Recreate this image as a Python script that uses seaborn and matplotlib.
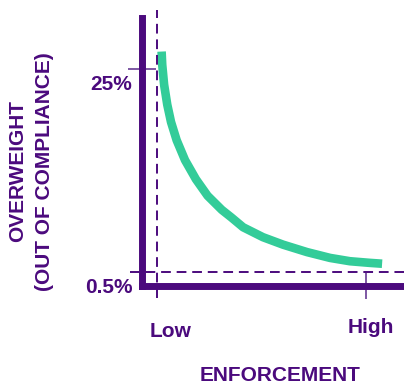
import matplotlib
matplotlib.use("Agg")
import matplotlib.pyplot as plt
import seaborn as sns
import pandas as pd

# ---- data ----
enforcement = [0.022, 0.025, 0.034, 0.049, 0.067, 0.094, 0.134, 0.186, 0.242, 0.310,
               0.355, 0.412, 0.507, 0.603, 0.718, 0.828, 0.923, 1.019, 1.077]
overweight = [27.1, 25.5, 23.1, 20.7, 18.6, 16.4, 14.0, 11.7, 9.7, 8.0,
              7.1, 5.9, 4.7, 3.8, 2.9, 2.2, 1.8, 1.6, 1.5]
x_tick_vals = [0, 1]
x_tick_labels = ["Low", "High"]
y_tick_vals = [0.5, 25]
y_tick_labels = ["0.5%", "25%"]

PURPLE = "#4B0A7D"
GREEN = "#33CC99"

sns.set_style("white")
plt.rcParams["font.family"] = ["Liberation Sans", "DejaVu Sans"]

W, H = 404, 385
fig = plt.figure(figsize=(W / 100, H / 100), dpi=100)
left_px, bottom_px, top_px = 141.5, 285.5, 17.5
ax = fig.add_axes([left_px / W, (H - bottom_px) / H, 1 - left_px / W, (bottom_px - top_px) / H])
ax.set_xlim(-0.0742, 1.1818)
ax.set_ylim(-1.129, 31.21)

df = pd.DataFrame({"enforcement": enforcement, "overweight": overweight})
sns.lineplot(data=df, x="enforcement", y="overweight", ax=ax, color=GREEN,
             linewidth=6.2, solid_capstyle="butt", solid_joinstyle="round")

# reference lines at the extremes
ax.axvline(x_tick_vals[0], ymin=-0.0466, ymax=1.028, color=PURPLE, lw=1.4,
           dashes=(5, 3), clip_on=False)
ax.axhline(y_tick_vals[0], xmin=-0.0438, xmax=1.0, color=PURPLE, lw=1.4,
           dashes=(5, 3), clip_on=False)

for s in ["top", "right"]:
    ax.spines[s].set_visible(False)
for s in ["left", "bottom"]:
    ax.spines[s].set_color(PURPLE)
    ax.spines[s].set_linewidth(5)
    ax.spines[s].set_capstyle("projecting")

ax.set_xlabel("")
ax.set_ylabel("")
ax.set_xticks([])
ax.set_yticks([])
ax.set_xticks([x_tick_vals[1]], minor=True)
ax.set_yticks([y_tick_vals[1]], minor=True)
ax.tick_params(which="minor", direction="inout", color="#5a2a8a", width=1.1,
               bottom=True, left=True, labelbottom=False, labelleft=False)
ax.tick_params(axis="y", which="minor", length=20)
ax.tick_params(axis="x", which="minor", length=18.7)

fkw = dict(color=PURPLE, fontsize=15, fontweight="bold")
trans_y = ax.get_yaxis_transform()
trans_x = ax.get_xaxis_transform()
for v, lab in zip(y_tick_vals, y_tick_labels):
    ax.annotate(lab, xy=(0, v), xycoords=trans_y, xytext=(-6.5, -11.5),
                textcoords="offset points", ha="right", va="center", **fkw)
x_offsets = [(9.4, -37), (3.6, -34)]
for v, lab, off in zip(x_tick_vals, x_tick_labels, x_offsets):
    ax.annotate(lab, xy=(v, 0), xycoords=trans_x, xytext=off,
                textcoords="offset points", ha="center", va="baseline", **fkw)

fig.text(280 / W, (H - 381) / H, "ENFORCEMENT", ha="center", va="baseline", **fkw)
fig.text(18 / W, 1 - 171.5 / H, "OVERWEIGHT", rotation=90, ha="center", va="center", **fkw)
fig.text(45 / W, 1 - 172 / H, "(OUT OF COMPLIANCE)", rotation=90, ha="center", va="center", **fkw)

fig.savefig("out.png", dpi=100)
